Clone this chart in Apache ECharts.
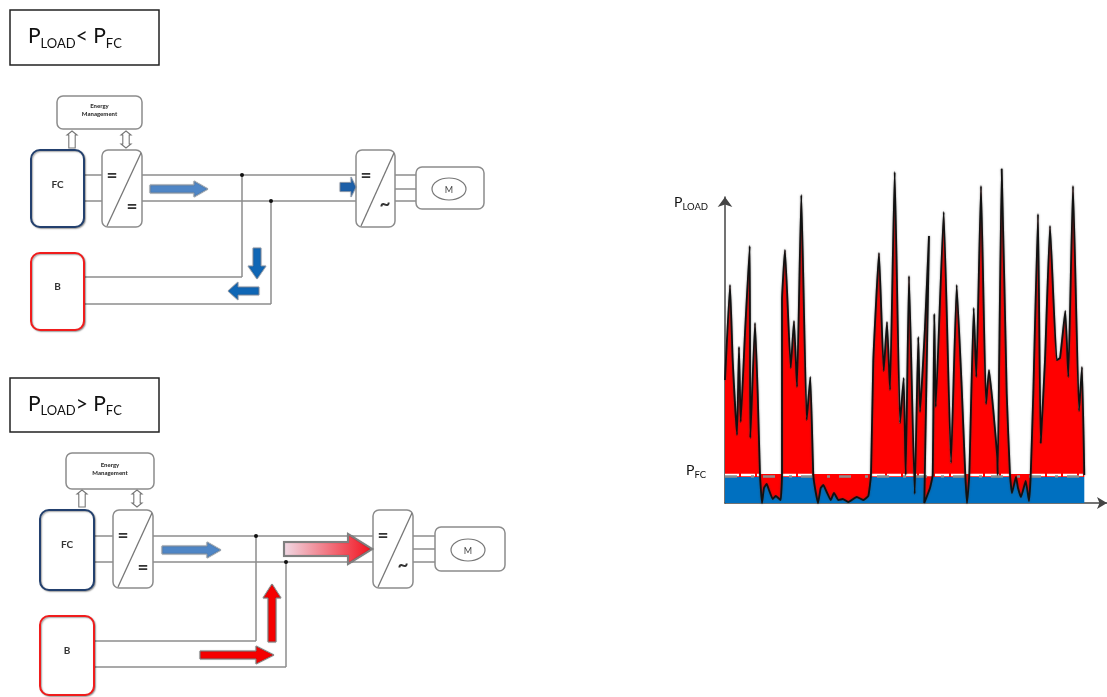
<!DOCTYPE html>
<html><head><meta charset="utf-8">
<style>html,body{margin:0;padding:0;background:#fff}#c{width:1107px;height:697px}</style>
<script src="https://cdn.jsdelivr.net/npm/echarts@6/dist/echarts.min.js"></script>
</head><body><div id="c"></div>
<script>
const times=[0,5,7.7,12,14,15.7,20,24.7,25.3,30,32.7,35,37,39,41.7,44,47.7,50.7,53.3,55.7,57,57,60,65.7,69,72,76.3,81.7,85.3,88.3,90,93,95.7,98.3,101.7,105.7,109,113.3,117.7,123.3,131.7,138.3,143.3,146,148.3,154,158.7,162,165,169.7,175,178.7,180.7,184,189.7,193.3,195,200,204,199.3,205,207.7,209.3,210.7,218.7,226,231.7,236.7,240.3,242,244.3,248.7,251.3,256,261,264,268.3,272.3,272.7,276.7,281.7,285,287,291,293,296,300.7,304,305.7,308.3,313,315.7,320,325,331.7,335,340.3,343.3,348,354,357,359.3];
const loadValues=[123,218,143,68,156,81,170,257,65,180,110,28,0,15,19,13,4,7,5,3,28,203,253,135,182,116,308,83,126,28,15,0,15,18,11,3,10,3,4,1,6,3,7,28,143,250,132,181,113,331,80,125,28,227,9,166,91,176,267,0,15,28,189,96,291,40,218,116,28,0,28,195,126,317,99,133,93,46,28,334,110,28,10,26,15,6,22,2,28,110,289,60,143,277,143,145,192,126,317,92,136,28];
const pFC=28, bandTop=29, blueTop=26, loadEnd=358.5, xMax=382, yMax=306;
const whiteSpans=[[0,35],[57,88],[146,240],[244,285],[306,358]];
const greySpan=[0,358];

const load=times.map((t,i)=>[t,loadValues[i]]);
const whiteData=[];
whiteSpans.forEach(s=>{whiteData.push([s[0],pFC],[s[1],pFC],[s[1],null]);});

const GREY='#8c8c8c', FONT='Lato, "Open Sans", sans-serif';
const g=[];
const soft={shadowBlur:1.5,shadowColor:'rgba(0,0,0,0.35)',shadowOffsetX:1,shadowOffsetY:1};
function box(x0,y0,x1,y1,r,stroke,w,extra){g.push({type:'rect',z:5,shape:{x:x0,y:y0,width:x1-x0,height:y1-y0,r:r},style:Object.assign({fill:'#fff',stroke:stroke,lineWidth:w},extra||{})});}
function seg(x0,y0,x1,y1,c,w){g.push({type:'line',z:3,shape:{x1:x0,y1:y0,x2:x1,y2:y1},style:{stroke:c||GREY,lineWidth:w||1.5}});}
function label(x,y,t,size,weight,c,align){g.push({type:'text',z:7,x:x,y:y,style:{text:t,fontFamily:FONT,fontSize:size,fontWeight:weight||'normal',fill:c||'#333',align:align||'center',verticalAlign:'middle',lineHeight:size+2}});}
function dot(x,y){g.push({type:'circle',z:6,shape:{cx:x,cy:y,r:2},style:{fill:'#111'}});}
function arrow(x0,y0,x1,y1,shaft,head,hl,fill,stroke,sw){
  const L=Math.hypot(x1-x0,y1-y0),ux=(x1-x0)/L,uy=(y1-y0)/L,nx=-uy,ny=ux;
  const P=(a,b)=>[x0+ux*a+nx*b,y0+uy*a+ny*b];
  g.push({type:'polygon',z:8,shape:{points:[P(0,-shaft/2),P(L-hl,-shaft/2),P(L-hl,-head/2),P(L,0),P(L-hl,head/2),P(L-hl,shaft/2),P(0,shaft/2)]},style:{fill:fill,stroke:stroke,lineWidth:sw,shadowBlur:1,shadowColor:'rgba(0,0,0,.4)'}});
}
function hollowDouble(x,y0,y1,both){
  const w=3.2,h=10,hl=4,pts=[[x,y0],[x+h/2,y0+hl],[x+w,y0+hl]];
  if(both){pts.push([x+w,y1-hl],[x+h/2,y1-hl],[x,y1],[x-h/2,y1-hl],[x-w,y1-hl]);}
  else{pts.push([x+w,y1],[x-w,y1]);}
  pts.push([x-w,y0+hl],[x-h/2,y0+hl]);
  g.push({type:'polygon',z:8,shape:{points:pts},style:{fill:'#fff',stroke:'#777',lineWidth:1.1}});
}
function subText(x,y,main,sub,size,subSize,after,afterSub){
  const p={fontSize:size,fontFamily:FONT,fill:'#111',lineHeight:size+6};
  const s={fontSize:subSize,fontFamily:FONT,fill:'#111',lineHeight:subSize+1,verticalAlign:'bottom'};
  g.push({type:'text',z:7,x:x,y:y,style:{fontFamily:FONT,verticalAlign:'middle',fill:'#111',
    text:'{p|'+main+'}{s|'+sub+'}'+(after?'{p|'+after+'}{s|'+afterSub+'}':''),rich:{p:p,s:s}}});
}
function title(x0,y0,x1,y1,op){
  g.push({type:'rect',z:5,shape:{x:x0,y:y0,width:x1-x0,height:y1-y0},style:{fill:'#fff',stroke:'#222',lineWidth:1.5}});
  subText(28,(y0+y1)/2-1,'P','LOAD',21,13,op+' P','FC');
}
function converter(x0,y0,x1,y1,acGlyph){
  box(x0,y0,x1,y1,6,GREY,1.5);
  seg(x1-1,y0+3,x0+5,y1-1,'#777',1.3);g[g.length-1].z=6;
  label(x0+10,y0+26,'=',19,'bold','#333');
  label(x1-10,y1-(acGlyph?23:20),acGlyph?'~':'=',19,'bold','#333');
}
function diagram(d){
  box(d.em[0],d.em[1],d.em[2],d.em[3],6,GREY,1.5);
  label((d.em[0]+d.em[2])/2,(d.em[1]+d.em[3])/2-2,'Energy\nManagement',6,'900','#333');
  hollowDouble(d.up,d.hy[0],d.hy[1],false);
  hollowDouble(d.dbl,d.hy[0],d.hy[1],true);
  const [fx0,fx1,fy0,fy1]=d.fc,[by0,by1]=d.b;
  seg(fx1,d.y1,d.cv[0],d.y1);seg(fx1,d.y2,d.cv[0],d.y2);
  seg(d.cv[1],d.y1,d.inv[0],d.y1);seg(d.cv[1],d.y2,d.inv[0],d.y2);
  seg(d.j1,d.y1,d.j1,d.by1);seg(fx1,d.by1,d.j1,d.by1);
  seg(d.j2,d.y2,d.j2,d.by2);seg(fx1,d.by2,d.j2,d.by2);
  const ym=d.ym;
  [d.y1,ym,d.y2].forEach(y=>seg(d.inv[1],y,d.m[0],y));
  box(fx0,fy0,fx1,fy1,9,'#23406e',2,soft);
  label((fx0+fx1)/2,d.fcLabel,'FC',10,'bold','#333');
  box(fx0,by0,fx1,by1,9,'#f01c1c',2,soft);
  label((fx0+fx1)/2,d.bLabel,'B',10,'bold','#333');
  converter(d.cv[0],fy0,d.cv[1],d.cvBot);
  converter(d.inv[0],fy0,d.inv[1],d.cvBot,true);
  box(d.m[0],d.m[1],d.m[2],d.m[3],6,GREY,1.5);
  g.push({type:'ellipse',z:6,shape:{cx:d.mc[0],cy:d.mc[1],rx:17,ry:11},style:{fill:'#fff',stroke:'#777',lineWidth:1.2}});
  label(d.mc[0],d.mc[1]+1,'M',9,'normal','#444');
  dot(d.j1,d.y1);dot(d.j2,d.y2);
}
title(10,10,159,65,'<');
title(10,378,159,432,'>');
diagram({em:[57,96,142,129],up:72,dbl:126,hy:[131,148],fc:[31,84,150,227],b:[253,330],y1:175,y2:201,ym:189,cv:[102,142],cvBot:227,inv:[356,395],j1:242,j2:271,by1:277,by2:304,m:[416,167,484,209],mc:[449,189],fcLabel:185,bLabel:287});
diagram({em:[66,453,154,489],up:82,dbl:137,hy:[490,507],fc:[40,94,510,590],b:[616,695],y1:536,y2:562,ym:549,cv:[113,153],cvBot:588,inv:[373,413],j1:256,j2:286,by1:641,by2:667,m:[435,527,505,571],mc:[468,550],fcLabel:545,bLabel:651});
arrow(150,189,208,189,8,16,14,'#4f86c6','#9aa7b5',1);
arrow(340,187,356,187,9,20,5,'#1c5fa8','#8fa0b5',.8);
arrow(257,248,257,279,8,18,13,'#0f66b5','#8fa0b5',.8);
arrow(259,291,228,291,8,18,10,'#0f66b5','#8fa0b5',.8);
arrow(162,550,221,550,8,16,14,'#4f86c6','#9aa7b5',1);
arrow(284,549,372,549,14,30,24,{type:'linear',x:0,y:0,x2:1,y2:0,colorStops:[{offset:0,color:'#f0dbe6'},{offset:1,color:'#f2101c'}]},'#7f7f7f',2);
arrow(272,642,272,584,8,18,14,'#f50000','#8a8a8a',1);
arrow(200,655,274,655,8,18,18,'#f50000','#8a8a8a',1);
subText(674,202,'P','LOAD',14,9.5);
subText(686,470,'P','FC',14,9.5);

const chart=echarts.init(document.getElementById('c'),null,{renderer:'canvas'});
const none={show:false};
const SM=0.12;
chart.setOption({
  animation:false,
  grid:{left:725,right:0,top:197,bottom:194},
  xAxis:{type:'value',min:0,max:xMax,splitLine:none,axisTick:none,axisLabel:none,
    axisLine:{show:true,symbol:['none','arrow'],symbolSize:[9,10],lineStyle:{color:'#444',width:1.5}}},
  yAxis:{type:'value',min:0,max:yMax,splitLine:none,axisTick:none,axisLabel:none,
    axisLine:{show:true,symbol:['none','arrow'],symbolSize:[11,10],lineStyle:{color:'#444',width:1.5}}},
  visualMap:{show:false,type:'piecewise',seriesIndex:1,dimension:1,pieces:[{gt:-100,lte:blueTop,color:'#0070c0'},{gt:blueTop,lte:1000,color:'#ff0000'}]},
  graphic:{elements:g},
  series:[
    {type:'line',z:1,symbol:'none',clip:false,data:[[0,bandTop],[loadEnd,bandTop]],lineStyle:{width:0},areaStyle:{color:'#ff0000',opacity:1}},
    {type:'line',z:2,symbol:'none',clip:false,smooth:SM,data:load,lineStyle:{width:0},areaStyle:{opacity:1}},
    {type:'line',z:3,symbol:'none',clip:false,connectNulls:false,data:whiteData,lineStyle:{color:'#fff',width:2.5,type:[14,2]}},
    {type:'line',z:4,symbol:'none',clip:false,data:greySpan.map(x=>[x,blueTop+.5]),lineStyle:{color:'#8c8c8c',width:2.5,type:[12,14,3,9]}},
    {type:'line',z:5,symbol:'none',clip:false,smooth:SM,data:load,lineStyle:{color:'#111',width:1.8,shadowBlur:2,shadowColor:'rgba(60,60,60,.7)'}}
  ]
});
</script></body></html>
